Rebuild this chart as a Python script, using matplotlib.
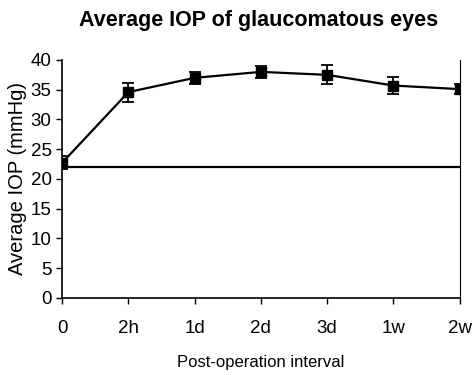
import matplotlib
matplotlib.use("Agg")
import matplotlib.pyplot as plt

categories = ["0", "2h", "1d", "2d", "3d", "1w", "2w"]
iop_mean = [22.7, 34.6, 37.0, 38.0, 37.5, 35.7, 35.1]
iop_err = [1.1, 1.6, 1.0, 1.0, 1.6, 1.5, 0.9]
reference_level = 22.0
y_ticks = [0, 5, 10, 15, 20, 25, 30, 35, 40]

plt.rcParams['font.family'] = ['Liberation Sans', 'DejaVu Sans']

fig = plt.figure(figsize=(4.74, 3.75), dpi=100)
ax = fig.add_axes([0.131, 0.206, 0.839, 0.634])

x = list(range(len(categories)))
ax.errorbar(x, iop_mean, yerr=iop_err, color='black', marker='s', markersize=7,
            linewidth=1.6, elinewidth=1.3, capsize=4, capthick=1.3)
ax.axhline(reference_level, color='black', linewidth=1.6)

ax.set_xlim(0, len(categories) - 1)
ax.set_ylim(0, 40)
ax.set_xticks(x)
ax.set_xticklabels(categories)
ax.set_yticks(y_ticks)
ax.tick_params(axis='both', labelsize=13.5, direction='out', length=4, width=1)
ax.tick_params(axis='x', pad=12)
for s in ['left', 'bottom']:
    ax.spines[s].set_linewidth(1.2)
ax.spines['right'].set_linewidth(0.8)
ax.spines['top'].set_visible(False)

ax.set_xlabel("Post-operation interval", fontsize=12, labelpad=13)
ax.set_ylabel("Average IOP (mmHg)", fontsize=14.5, labelpad=3)
fig.text(0.545, 0.945, "Average IOP of glaucomatous eyes", ha='center', va='center',
         fontsize=15.5, fontweight='bold')

fig.savefig("out.png", dpi=100)
